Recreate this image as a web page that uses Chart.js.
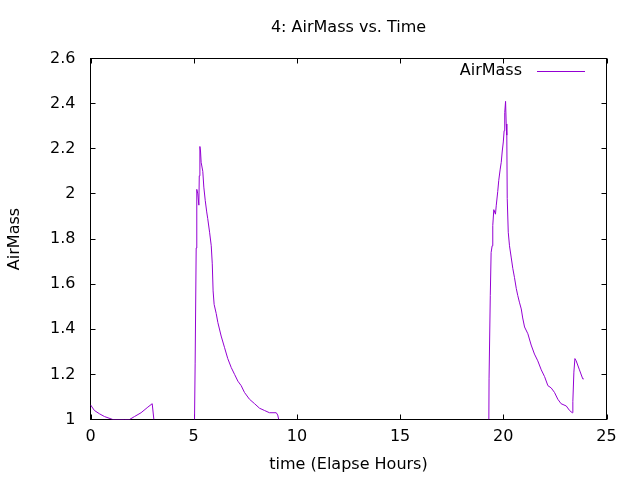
<!DOCTYPE html>
<html>
<head>
<meta charset="utf-8">
<title>4: AirMass vs. Time</title>
<script src="https://cdn.jsdelivr.net/npm/chart.js@4/dist/chart.umd.min.js"></script>
<style>
  html, body { margin: 0; padding: 0; background: #fff; }
  #wrap { width: 640px; height: 480px; }
</style>
</head>
<body>
<div id="wrap"><canvas id="airMassChart" width="640" height="480"></canvas></div>
<script>
// время в часах от начала и воздушная масса (null = разрыв линии)
const hours = [
  0.00, 0.19, 0.44, 0.68, 1.08, 1.65, 1.89, 2.13, 2.45, 2.78, 2.99, 3.07,
  4.00,
  5.04, 5.07, 5.12, 5.15, 5.20, 5.25, 5.27, 5.30, 5.33, 5.36, 5.44, 5.49,
  5.56, 5.63, 5.68, 5.77, 5.85, 5.90, 5.94, 5.99, 6.09, 6.17, 6.33, 6.49,
  6.65, 6.82, 6.98, 7.14, 7.30, 7.46, 7.70, 7.95, 8.19, 8.43, 8.67, 9.00,
  9.07, 9.12,
  14.00,
  19.30, 19.31, 19.37, 19.41, 19.46, 19.49, 19.54, 19.62, 19.66, 19.73, 19.78,
  19.85, 19.90, 19.95, 20.00, 20.04, 20.07, 20.11, 20.14, 20.17, 20.19, 20.24,
  20.30, 20.38, 20.46, 20.54, 20.63, 20.70, 20.78, 20.87, 20.94, 21.03, 21.19,
  21.35, 21.51, 21.67, 21.84, 22.00, 22.16, 22.32, 22.48, 22.64, 22.80, 23.05,
  23.21, 23.34, 23.37, 23.42, 23.47, 23.53, 23.69, 23.85, 23.90,
];
const airMass = [
  1.065, 1.04, 1.025, 1.013, 1.0, 1.0, 1.0, 1.013, 1.03, 1.055, 1.07, 1.0,
  null,
  1.0, 1.25, 1.76, 2.02, 2.00, 1.95, 2.08, 2.21, 2.19, 2.14, 2.10, 2.03,
  1.97, 1.92, 1.89, 1.83, 1.77, 1.69, 1.57, 1.51, 1.47, 1.43, 1.37, 1.32,
  1.27, 1.23, 1.20, 1.17, 1.15, 1.12, 1.09, 1.07, 1.05, 1.04, 1.03, 1.03,
  1.02, 1.0,
  null,
  1.0, 1.18, 1.55, 1.74, 1.77, 1.86, 1.93, 1.91, 1.95, 2.01, 2.06,
  2.11, 2.14, 2.19, 2.23, 2.28, 2.36, 2.41, 2.31, 2.26, 1.98, 1.83,
  1.77, 1.72, 1.67, 1.63, 1.58, 1.55, 1.52, 1.49, 1.45, 1.41, 1.38,
  1.33, 1.29, 1.26, 1.22, 1.19, 1.15, 1.14, 1.12, 1.09, 1.07, 1.06,
  1.04, 1.03, 1.08, 1.21, 1.27, 1.26, 1.22, 1.18, 1.18,
];
const xTicks = [0, 5, 10, 15, 20, 25];
const yTicks = [1, 1.2, 1.4, 1.6, 1.8, 2, 2.2, 2.4, 2.6];

const FONT = 'DejaVu Sans';
Chart.defaults.font.family = FONT;
Chart.defaults.font.size = 16;
Chart.defaults.color = 'black';

// рамка графика и засечки внутрь со всех сторон, как в gnuplot
const gnuplotFrame = {
  id: 'gnuplotFrame',
  beforeDatasetsDraw(chart) {
    const { ctx, chartArea: { left, top, right, bottom }, scales: { x, y } } = chart;
    ctx.save();
    ctx.strokeStyle = 'black';
    ctx.lineWidth = 1;
    ctx.beginPath();
    xTicks.forEach((v) => {
      const px = Math.round(x.getPixelForValue(v)) + 0.5;
      ctx.moveTo(px, bottom);
      ctx.lineTo(px, bottom - 5);
      ctx.moveTo(px, top);
      ctx.lineTo(px, top + 5);
    });
    yTicks.forEach((v) => {
      const py = Math.round(y.getPixelForValue(v) - 0.5) + 0.5;
      ctx.moveTo(left, py);
      ctx.lineTo(left + 5, py);
      ctx.moveTo(right, py);
      ctx.lineTo(right - 5, py);
    });
    ctx.stroke();
    ctx.strokeRect(left, top, right - left, bottom - top);
    ctx.restore();
  },
  // легенда: подпись слева, образец линии справа
  afterDraw(chart) {
    const { ctx } = chart;
    const ds = chart.data.datasets[0];
    ctx.save();
    ctx.font = `16px "${FONT}"`;
    ctx.fillStyle = 'black';
    ctx.textAlign = 'right';
    ctx.textBaseline = 'middle';
    ctx.fillText(ds.label, 522, 71);
    ctx.strokeStyle = ds.borderColor;
    ctx.lineWidth = 1;
    ctx.beginPath();
    ctx.moveTo(537, 71.5);
    ctx.lineTo(585, 71.5);
    ctx.stroke();
    ctx.restore();
  },
};

new Chart(document.getElementById('airMassChart'), {
  type: 'line',
  data: {
    datasets: [{
      label: 'AirMass',
      data: hours.map((h, i) => ({ x: h, y: airMass[i] })),
      borderColor: '#9400d3',
      borderWidth: 1,
      pointRadius: 0,
      tension: 0,
      spanGaps: false,
    }],
  },
  options: {
    responsive: false,
    animation: false,
    layout: { padding: { left: 0, right: 33.5, top: 0, bottom: 0 } },
    scales: {
      x: {
        type: 'linear',
        min: 0,
        max: 25,
        grid: { display: false, drawTicks: false },
        border: { display: false },
        afterBuildTicks: (scale) => { scale.ticks = xTicks.map((v) => ({ value: v })); },
        afterFit: (scale) => { scale.height = 60.5; },
        ticks: { padding: 8, maxRotation: 0, callback: (v) => String(v) },
        title: { display: true, text: 'time (Elapse Hours)', padding: { top: 0, bottom: 5.4 } },
      },
      y: {
        min: 1,
        max: 2.6,
        grid: { display: false, drawTicks: false },
        border: { display: false },
        afterBuildTicks: (scale) => { scale.ticks = yTicks.map((v) => ({ value: v })); },
        afterFit: (scale) => { scale.width = 90.5; },
        ticks: { padding: 15, callback: (v) => String(Number(v.toFixed(1))) },
        title: { display: true, text: 'AirMass', padding: { top: 5.4, bottom: 0 } },
      },
    },
    plugins: {
      legend: { display: false },
      tooltip: { enabled: false },
      title: {
        display: true,
        fullSize: false,
        text: '4: AirMass vs. Time',
        font: { size: 16, weight: 'normal' },
        padding: { top: 18, bottom: 21.3 },
      },
    },
  },
  plugins: [gnuplotFrame],
});
</script>
</body>
</html>
